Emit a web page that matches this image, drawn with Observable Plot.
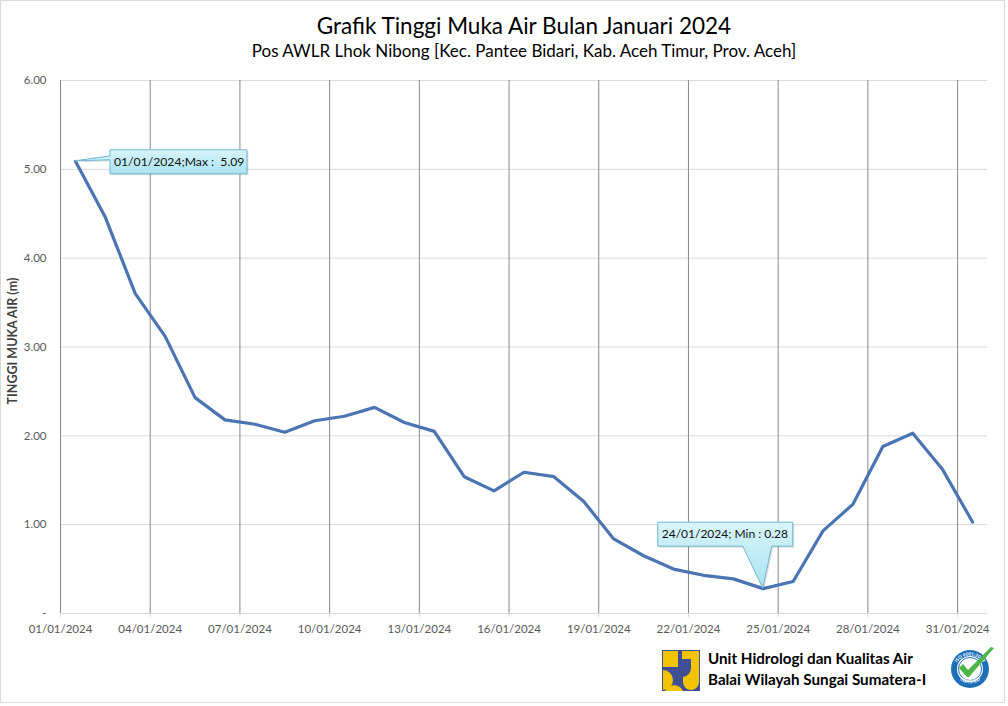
<!DOCTYPE html>
<html>
<head>
<meta charset="utf-8">
<script src="https://cdn.jsdelivr.net/npm/d3@7"></script>
<script src="https://cdn.jsdelivr.net/npm/@observablehq/plot@0.6"></script>
<style>
  html, body { margin: 0; padding: 0; background: #fff; }
  #chart { position: relative; width: 1008px; height: 706px; font-family: Lato, "Open Sans", sans-serif; }
  #chart svg { display: block; }
</style>
</head>
<body>
<div id="chart"></div>
<script>
// ---- Data ----
const titleText = "Grafik Tinggi Muka Air Bulan Januari 2024";
const subtitleText = "Pos AWLR Lhok Nibong [Kec. Pantee Bidari, Kab. Aceh Timur, Prov. Aceh]";
const yLabelText = "TINGGI MUKA AIR (m)";
const footerLines = ["Unit Hidrologi dan Kualitas Air", "Balai Wilayah Sungai Sumatera-I"];

const dates = [
  "2024-01-01","2024-01-02","2024-01-03","2024-01-04","2024-01-05","2024-01-06","2024-01-07",
  "2024-01-08","2024-01-09","2024-01-10","2024-01-11","2024-01-12","2024-01-13","2024-01-14",
  "2024-01-15","2024-01-16","2024-01-17","2024-01-18","2024-01-19","2024-01-20","2024-01-21",
  "2024-01-22","2024-01-23","2024-01-24","2024-01-25","2024-01-26","2024-01-27","2024-01-28",
  "2024-01-29","2024-01-30","2024-01-31"
];
const levels = [
  5.09, 4.46, 3.60, 3.12, 2.43, 2.18, 2.13,
  2.04, 2.17, 2.22, 2.32, 2.15, 2.05, 1.54,
  1.38, 1.59, 1.54, 1.26, 0.84, 0.65, 0.50,
  0.43, 0.39, 0.28, 0.36, 0.93, 1.23, 1.88,
  2.03, 1.62, 1.03
];
const xTickDates = ["2024-01-01","2024-01-04","2024-01-07","2024-01-10","2024-01-13",
  "2024-01-16","2024-01-19","2024-01-22","2024-01-25","2024-01-28","2024-01-31"];
const yTicks = [0, 1, 2, 3, 4, 5, 6];
const xDomain = ["2024-01-01", "2024-02-01"];

// ---- Build table ----
const halfDay = 12 * 3600 * 1000;
const data = dates.map((d, i) => ({
  day: new Date(d + "T00:00:00Z"),
  date: new Date(new Date(d + "T00:00:00Z").getTime() + halfDay),
  value: levels[i]
}));
const tickDates = xTickDates.map(d => new Date(d + "T00:00:00Z"));
const fmtDate = d3.utcFormat("%d/%m/%Y");
const yFmt = v => v === 0 ? "-" : v.toFixed(2);

const font = "Lato, 'Open Sans', sans-serif";

const plot = Plot.plot({
  width: 1008,
  height: 706,
  marginTop: 80,
  marginBottom: 93,
  marginLeft: 60,
  marginRight: 21,
  style: { fontFamily: font, background: "#fff", overflow: "visible" },
  x: { type: "utc", domain: xDomain.map(d => new Date(d + "T00:00:00Z")) },
  y: { domain: [0, 6] },
  marks: [
    Plot.gridY(yTicks, { stroke: "#d9d9d9", strokeOpacity: 1 }),
    Plot.gridX(tickDates, { stroke: "#878787", strokeOpacity: 1 }),
    Plot.ruleX([tickDates[0]], { stroke: "#878787" }),
    Plot.axisX(tickDates, {
      tickFormat: fmtDate, tickSize: 4, tickPadding: 7, stroke: "#d9d9d9",
      fill: "#595959", fontSize: 11.5, label: null
    }),
    Plot.axisY(yTicks, {
      tickFormat: yFmt, tickSize: 0, tickPadding: 14, fill: "#595959",
      fontSize: 11.5, label: null
    }),
    Plot.text([yLabelText], {
      frameAnchor: "left", textAnchor: "middle", rotate: -90, dx: -48, dy: -6, text: d => d,
      fontWeight: "bold", fontSize: 12.5, fill: "#404040"
    }),
    Plot.text([titleText], {
      frameAnchor: "top", text: d => d, dy: -62, fontSize: 22.5, fill: "#000"
    }),
    Plot.text([subtitleText], {
      frameAnchor: "top", text: d => d, dy: -36, fontSize: 17, fill: "#000"
    }),
    Plot.lineY(data, { x: "date", y: "value", stroke: "#4a74b2", strokeWidth: 3.2, strokeLinejoin: "round" })
  ]
});

document.getElementById("chart").appendChild(plot);

// ---- Annotations (callouts) using the plot's scales ----
const sx = plot.scale("x"), sy = plot.scale("y");
const svg = d3.select(plot);
const defs = svg.append("defs");
const grad = defs.append("linearGradient").attr("id", "calloutGrad")
  .attr("x1", 0).attr("y1", 0).attr("x2", 0).attr("y2", 1);
grad.append("stop").attr("offset", "0%").attr("stop-color", "#d9f4fb");
grad.append("stop").attr("offset", "100%").attr("stop-color", "#a9e3f1");

const maxD = data.reduce((a, b) => (b.value > a.value ? b : a));
const minD = data.reduce((a, b) => (b.value < a.value ? b : a));

// Max callout
{
  const px = sx.apply(maxD.date), py = sy.apply(maxD.value);
  const l = px + 35, t = py - 11, w = 137, h = 24, r = l + w, b = t + h;
  const path = `M${l},${t} H${r} V${b} H${l} V${py - 1} L${px},${py} L${l},${py - 5} Z`;
  svg.append("path").attr("d", path).attr("transform", "translate(1.5,1.5)")
    .attr("fill", "#000").attr("opacity", 0.12);
  svg.append("path").attr("d", path).attr("fill", "url(#calloutGrad)")
    .attr("stroke", "#6fb8cf").attr("stroke-width", 1);
  svg.append("text").attr("x", l + 4).attr("y", t + h / 2).attr("dy", "0.35em")
    .attr("text-anchor", "start")
    .attr("font-family", font).attr("font-size", 12.2).attr("fill", "#111")
    .attr("xml:space", "preserve").style("white-space", "pre")
    .text(`${fmtDate(maxD.day)};Max :  ${maxD.value.toFixed(2)}`);
}
// Min callout
{
  const px = sx.apply(minD.date), py = sy.apply(minD.value);
  const l = px - 105, t = py - 66, w = 135, h = 24, r = l + w, b = t + h;
  const path = `M${l},${t} H${r} V${b} H${px + 9} L${px},${py} L${px - 20},${b} H${l} Z`;
  svg.append("path").attr("d", path).attr("transform", "translate(1.5,1.5)")
    .attr("fill", "#000").attr("opacity", 0.12);
  svg.append("path").attr("d", path).attr("fill", "url(#calloutGrad)")
    .attr("stroke", "#6fb8cf").attr("stroke-width", 1);
  svg.append("text").attr("x", l + 4).attr("y", t + h / 2).attr("dy", "0.35em")
    .attr("text-anchor", "start")
    .attr("font-family", font).attr("font-size", 12).attr("fill", "#111")
    .text(`${fmtDate(minD.day)}; Min : ${minD.value.toFixed(2)}`);
}

// ---- Outer border ----
svg.append("rect").attr("x", 0.5).attr("y", 0.5).attr("width", 1004).attr("height", 702)
  .attr("fill", "none").attr("stroke", "#d9d9d9");

// ---- Footer: logo, text, badge ----
const logo = svg.append("g").attr("transform", "translate(662,650)");
logo.append("rect").attr("width", 38).attr("height", 41).attr("fill", "#3f4f93");
logo.append("rect").attr("x", 1).attr("y", 1).attr("width", 15).attr("height", 16).attr("fill", "#f4c300");
logo.append("path").attr("d", "M20,1 H37 V32 A8,8 0 0 1 21,32 V27 A9,9 0 0 0 29,18 V9 H20 Z").attr("fill", "#f4c300");
logo.append("path").attr("d", "M1,20 A10,10 0 0 1 11,30 A10,10 0 0 1 1,40 Z").attr("fill", "#f4c300");
logo.append("path").attr("d", "M3,41 A10,10 0 0 1 21,41 Z").attr("fill", "#f4c300");

footerLines.forEach((s, i) => {
  svg.append("text").attr("x", 708).attr("y", 664 + i * 21)
    .attr("text-anchor", "start")
    .attr("font-family", font).attr("font-weight", "bold").attr("font-size", 15.2)
    .attr("fill", "#000").text(s);
});

const badge = svg.append("g").attr("transform", "translate(970,669)");
badge.append("circle").attr("r", 19).attr("fill", "#1f6fb8");
badge.append("circle").attr("r", 13).attr("fill", "#fff");
badge.append("circle").attr("r", 11.5).attr("fill", "none").attr("stroke", "#1f6fb8").attr("stroke-width", 1);
defs.append("path").attr("id", "badgeTop").attr("d", "M-15.5,2 A15.5,15.5 0 0 1 15.5,2");
defs.append("path").attr("id", "badgeBot").attr("d", "M-15.5,-1 A15.5,15.5 0 0 0 15.5,-1");
badge.append("text").attr("font-size", 4.5).attr("fill", "#fff").attr("font-family", font).attr("font-weight", "bold")
  .append("textPath").attr("href", "#badgeTop").attr("startOffset", "50%").attr("text-anchor", "middle")
  .text("ISO 9001:2008");
badge.append("text").attr("font-size", 4.5).attr("fill", "#fff").attr("font-family", font).attr("font-weight", "bold")
  .append("textPath").attr("href", "#badgeBot").attr("startOffset", "50%").attr("text-anchor", "middle")
  .text("CERTIFIED");
badge.append("path").attr("d", "M-11,-1 L-3,8 L-1,8 L24,-21 L21,-22 L-2,1 L-7,-5 Z").attr("fill", "#4bb547");
</script>
</body>
</html>
